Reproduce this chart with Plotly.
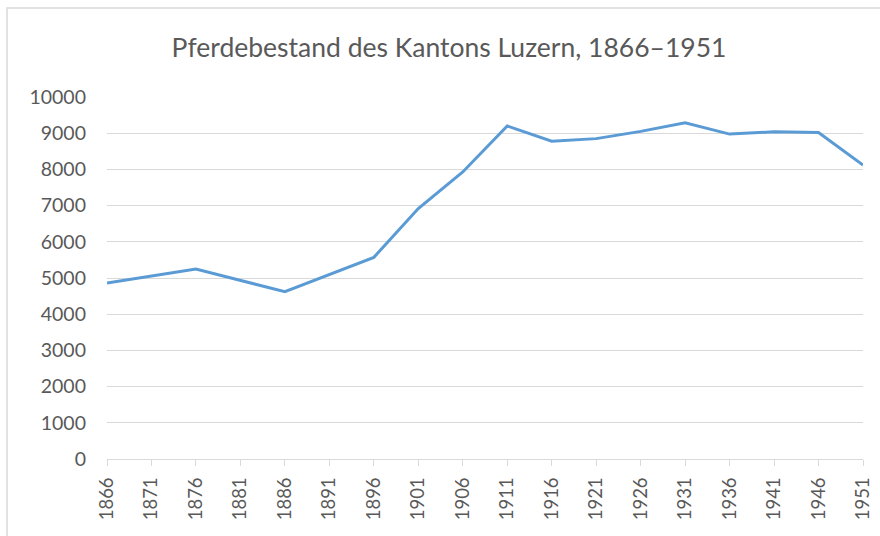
import plotly.graph_objects as go

years = [1866, 1871, 1876, 1881, 1886, 1891, 1896, 1901, 1906,
         1911, 1916, 1921, 1926, 1931, 1936, 1941, 1946, 1951]
# Pferdebestand; fehlende Zählungen als None (Linie wird durchgezogen)
horses = [4860, None, 5250, None, 4620, None, 5570, 6920, 7930,
          9200, 8780, 8850, 9050, 9290, 8975, 9040, 9020, 8120]
y_ticks = list(range(0, 10001, 1000))

fig = go.Figure()
fig.add_trace(go.Scatter(x=years, y=horses, mode="lines", connectgaps=True,
                         line=dict(color="#5B9BD5", width=3)))

grey = "#595959"
fig.update_layout(
    width=880, height=536,
    margin=dict(l=107, r=17, t=97, b=77),
    paper_bgcolor="white", plot_bgcolor="white",
    showlegend=False,
    font=dict(family="Lato, 'Open Sans', sans-serif", color=grey, size=19.5),
    title=dict(text="Pferdebestand des Kantons Luzern, 1866–1951",
               x=449 / 880, xref="container", xanchor="center",
               y=1 - 48 / 536, yanchor="middle",
               font=dict(size=26.5, color=grey)),
)
fig.update_xaxes(range=[1866, 1951], tickvals=years, ticktext=[str(y) for y in years],
                 tickangle=-90, ticks="outside", ticklen=6, tickcolor="#D9D9D9",
                 tickfont=dict(size=18.5),
                 showgrid=False, showline=True, linecolor="#D9D9D9", linewidth=1,
                 zeroline=False, ticklabelstandoff=4, automargin=False)
fig.update_yaxes(range=[0, 10000], tickvals=y_ticks, ticktext=[str(v) for v in y_ticks],
                 showgrid=True, gridcolor="#D9D9D9", gridwidth=1, zeroline=False,
                 showline=False, ticks="", ticklabelstandoff=20, automargin=False)

# Rahmen des Diagrammbereichs
fig.add_shape(type="rect", xref="paper", yref="paper",
              x0=(7 - 107) / 756, x1=(895 - 107) / 756,
              y0=-(90) / 362, y1=1 + (97 - 8) / 362,
              line=dict(color="#D9D9D9", width=1.5), layer="below")

fig.write_html("out.html", config={"displayModeBar": False},
               post_script="document.body.style.margin='0';")
